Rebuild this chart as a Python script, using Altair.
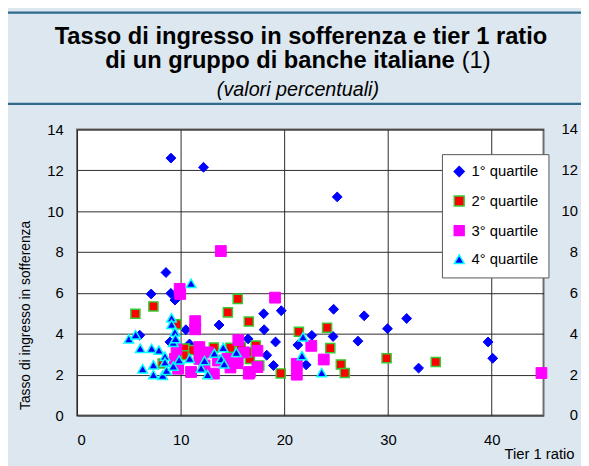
import altair as alt
import pandas as pd

FONT = "Liberation Sans"

labels = ["1° quartile", "2° quartile", "3° quartile", "4° quartile"]

# 1° quartile (blue diamonds)
q1_x = [9.06, 12.2, 25.1, 8.58, 7.15, 9.05, 9.45, 6.05, 10.5, 8.96, 10.85, 13.7, 18.0, 19.7,
        18.05, 16.5, 19.15, 18.3, 18.95, 22.1, 21.3, 22.65, 24.75, 27.7, 31.8, 29.95, 24.7,
        27.1, 39.65, 40.1, 32.95]
q1_y = [12.6, 12.15, 10.7, 7.0, 5.95, 5.98, 5.65, 3.93, 4.2, 3.6, 3.5, 4.43, 4.98, 5.13,
        4.2, 3.75, 3.6, 2.95, 2.45, 2.48, 3.45, 3.92, 5.2, 4.88, 4.75, 4.25, 3.87,
        3.64, 3.6, 2.8, 2.32]

# 2° quartile (red squares)
q2_x = [5.63, 7.37, 15.5, 14.55, 16.57, 21.4, 17.24, 16.67, 17.58, 19.65, 9.62, 10.4, 10.3,
        8.26, 13.2, 14.8, 16.4, 24.12, 24.43, 25.45, 25.83, 29.86, 34.6, 9.66, 11.2, 15.8]
q2_y = [4.98, 5.34, 5.71, 5.05, 4.6, 4.1, 3.43, 2.77, 2.45, 2.06, 4.46, 3.28, 2.95,
        2.55, 3.33, 3.32, 3.09, 4.3, 3.3, 2.5, 2.08, 2.8, 2.62, 2.69, 3.2, 3.35]

# 3° quartile (magenta squares)
q3_x = [13.87, 9.9, 9.95, 19.1, 11.4, 11.4, 15.56, 9.6, 11.8, 12.6, 9.75, 11.0, 12.3, 13.2,
        13.6, 14.5, 15.5, 16.67, 17.4, 17.4, 16.1, 21.2, 21.2, 22.6, 23.8, 44.8, 9.44, 11.8,
        16.57, 12.0, 14.8]
q3_y = [8.05, 6.2, 5.95, 5.77, 4.62, 4.22, 3.69, 3.25, 3.35, 3.09, 2.29, 2.13, 2.45, 2.05,
        2.69, 2.77, 2.56, 2.13, 2.37, 3.17, 3.09, 2.53, 2.0, 3.41, 2.74, 2.08, 2.77, 2.77,
        2.05, 3.0, 2.35]

# 4° quartile (blue triangles)
q4_x = [11.0, 9.12, 9.12, 9.44, 9.29, 5.0, 5.65, 6.1, 7.2, 7.9, 8.48, 8.48, 6.33, 7.37,
        7.37, 8.26, 8.64, 9.29, 9.85, 10.87, 11.97, 12.3, 12.6, 13.25, 14.1, 13.9, 14.2,
        15.37, 21.8, 21.7, 23.6, 9.5]
q4_y = [6.47, 4.78, 4.46, 4.09, 3.58, 3.75, 3.95, 3.29, 3.29, 3.2, 2.9, 2.61, 2.29, 2.48,
        2.0, 1.97, 2.21, 2.42, 2.72, 2.8, 2.32, 2.69, 2.0, 3.05, 3.33, 2.77, 2.53,
        3.09, 3.85, 2.93, 2.1, 3.77]

x_ticks = [0, 10, 20, 30, 40]
y_ticks = [0, 2, 4, 6, 8, 10, 12, 14]

title1 = "Tasso di ingresso in sofferenza e tier 1 ratio"
title2a = "di un gruppo di banche italiane"
title2b = "(1)"
subtitle = "(valori percentuali)"
y_title = "Tasso di ingresso in sofferenza"
x_title = "Tier 1 ratio"

rows = []
for lab, xs, ys in zip(labels, [q1_x, q2_x, q3_x, q4_x], [q1_y, q2_y, q3_y, q4_y]):
    for xv, yv in zip(xs, ys):
        rows.append({"tier1": xv, "tasso": yv, "gruppo": lab})
df = pd.DataFrame(rows)

fills = ["#0000ff", "#ff0000", "#ff00ff", "#0000ff"]
strokes = ["#0000ff", "#33cc33", "#ff00ff", "#00ffff"]
shapes = ["diamond", "square", "square", "triangle-up"]
sizes = [100, 85, 120, 95]
swidths = [1, 1.5, 1, 1.5]

x_scale = alt.Scale(domain=[0, 45], nice=False, zero=False)
y_scale = alt.Scale(domain=[0, 14], nice=False)
fill_enc = alt.Fill("gruppo:N", scale=alt.Scale(domain=labels, range=fills), legend=alt.Legend(title=None))
stroke_enc = alt.Stroke("gruppo:N", scale=alt.Scale(domain=labels, range=strokes), legend=alt.Legend(title=None))
shape_enc = alt.Shape("gruppo:N", scale=alt.Scale(domain=labels, range=shapes), legend=alt.Legend(title=None))

x_axis = alt.Axis(values=x_ticks, title=x_title, grid=True, gridColor="#2a2a2a", gridWidth=1,
                  domain=False, ticks=False, labelFontSize=15, labelPadding=17, labelColor="black",
                  labelFont=FONT, titleFont=FONT, titleFontSize=15, titleFontWeight="normal",
                  titleColor="black", titleX=504, titleY=44, titleAlign="right",
                  titleBaseline="alphabetic", titleAnchor="end")
y_axis = alt.Axis(values=y_ticks, title=y_title, grid=True, gridColor="#2a2a2a", gridWidth=1,
                  domain=False, ticks=False, labelFontSize=15, labelPadding=14, labelColor="black",
                  labelFont=FONT, titleFont=FONT, titleFontSize=14, titleFontWeight="normal",
                  titleColor="black", titleAngle=270, titleX=-48, titleY=188, titleAlign="center",
                  titleBaseline="alphabetic", titleAnchor="middle")

X = alt.X("tier1:Q", scale=x_scale, axis=x_axis)
Y = alt.Y("tasso:Q", scale=y_scale, axis=y_axis)

layers = []
for i, lab in enumerate(labels):
    layers.append(
        alt.Chart(df).transform_filter(alt.datum.gruppo == lab)
        .mark_point(filled=True, opacity=1, size=sizes[i], strokeWidth=swidths[i])
        .encode(x=X, y=Y, fill=fill_enc, stroke=stroke_enc, shape=shape_enc)
    )

# right-side mirror of the y tick labels
right_labels = alt.Chart(pd.DataFrame({"tasso": y_ticks})).mark_text(
    align="right", baseline="middle", font=FONT, fontSize=15, color="black"
).encode(x=alt.value(508), y=Y, text=alt.Text("tasso:Q"))


def text_layer(txt, x, y, size, weight="normal", style="normal", align="center"):
    return alt.Chart(pd.DataFrame({"t": [txt]})).mark_text(
        font=FONT, fontSize=size, fontWeight=weight, fontStyle=style, align=align,
        baseline="alphabetic", color="black"
    ).encode(x=alt.value(x), y=alt.value(y), text="t:N")


def hline(y):
    return alt.Chart(pd.DataFrame({"k": [0]})).mark_rule(color="#2f6a8c", strokeWidth=2.5).encode(
        x=alt.value(-70), x2=alt.value(511), y=alt.value(y))


decor = [
    hline(-118.5),
    hline(-26),
    text_layer(title1, 227, -87, 24, weight="bold"),
    text_layer(title2a, 383, -62, 24, weight="bold", align="right"),
    text_layer(title2b, 390, -62, 24, align="left"),
    text_layer(subtitle, 224, -34, 20, style="italic"),
]

chart = alt.layer(*decor, *layers, right_labels).properties(
    width=473, height=290,
    padding={"left": 70, "top": 120, "right": 38, "bottom": 48},
    autosize=alt.AutoSizeParams(type="none"),
    background="#dce7f0",
).configure_view(
    fill="white", stroke="#6e6e6e", strokeWidth=2
).configure_legend(
    orient="none", legendX=370, legendY=25, padding=10, fillColor="white", strokeColor="#555555",
    labelFont=FONT, labelFontSize=15, labelColor="black", labelOffset=5, rowPadding=13,
    symbolSize=100, symbolStrokeWidth=1.5, cornerRadius=0
)

chart.save("out.html", embed_options={"renderer": "svg", "actions": False})
